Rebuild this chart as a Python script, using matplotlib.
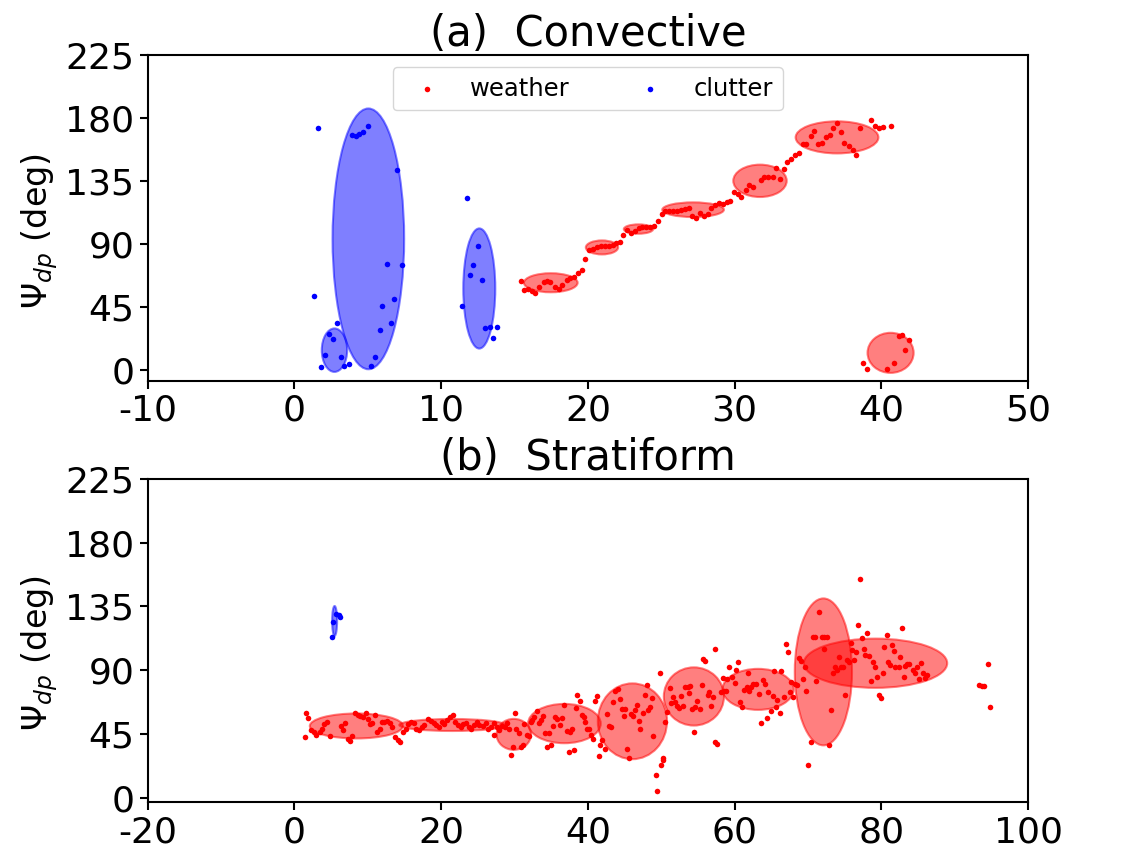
import matplotlib
matplotlib.use("Agg")
import matplotlib.pyplot as plt
from matplotlib.patches import Ellipse

plt.rcParams["axes.unicode_minus"] = False

# ---- (a) convective ----
a_clutter_x = [1.59, 1.34, 1.81, 2.1, 2.35, 2.6, 2.9, 3.15, 3.4, 3.7, 3.9, 4.2, 4.4, 4.7, 5.0,
               5.2, 5.5, 5.8, 6.0, 6.3, 6.55, 6.8, 7.0, 7.3, 11.43, 11.75, 12.0, 12.2, 12.5,
               12.76, 13.0, 13.3, 13.5, 13.8]
a_clutter_y = [173, 53, 2.4, 10.7, 25.5, 22, 34, 9.5, 3, 4.3, 168, 167, 168.5, 170, 174,
               3, 9.5, 29, 46, 76, 33.6, 50.5, 143, 75, 45.7, 123, 68, 75, 88.6,
               64.5, 30, 30.7, 23, 31]

a_weather_x = [15.41, 15.64, 15.93, 16.2, 16.43, 16.68, 16.98, 17.2, 17.45, 17.75, 18.02, 18.27,
               18.55, 18.8, 19.02, 19.3, 19.59, 19.82,
               20.09, 20.36, 20.64, 20.91, 21.18, 21.45, 21.68, 21.91, 22.18, 22.41,
               22.66, 22.95, 23.18, 23.45, 23.7, 23.95, 24.23, 24.48, 24.77,
               25.02, 25.27, 25.55, 25.82, 26.09, 26.36, 26.64, 26.86, 27.09, 27.39, 27.66,
               27.89, 28.18, 28.41, 28.66, 28.91, 29.23, 29.45, 29.68,
               29.95, 30.2, 30.45, 30.77, 31.0, 31.25, 31.8, 32.02, 32.3, 32.59, 32.82, 33.09,
               33.36, 33.59, 33.86, 34.14, 34.41,
               34.64, 34.89, 35.18, 35.43, 35.68, 35.95, 36.23, 36.48, 36.7, 37.0, 37.25,
               37.45, 37.77, 38.05, 38.27, 38.57, 39.3, 39.59, 39.86, 40.09, 40.64,
               38.76, 39.0, 40.37, 40.84, 41.17, 41.4, 41.87, 41.6]
a_weather_y = [63.7, 57.0, 58.0, 56.6, 55.1, 59.7, 62.8, 63.7, 63.0, 59.7, 58.2, 60.8,
               64.4, 65.6, 66.6, 69.7, 71.8, 79.5,
               85.9, 86.6, 87.6, 88.3, 88.8, 88.3, 89.2, 90.7, 91.6, 96.6,
               99.7, 97.8, 99.3, 101.2, 101.9, 101.9, 102.4, 103.1, 106.7,
               111.7, 113.8, 113.8, 113.6, 113.6, 114.5, 115.3, 115.7, 109.8, 108.6, 112.2,
               109.8, 111.7, 115.5, 118.1, 119.3, 118.6, 120.0, 121.0,
               127.0, 126.0, 123.6, 128.4, 132.2, 130.8, 135.5, 137.7, 137.9, 137.9, 144.1, 136.5,
               143.7, 148.4, 150.8, 153.4, 155.1,
               161.6, 161.6, 167.0, 170.4, 161.6, 162.0, 166.6, 167.5, 172.8, 176.1, 169.7,
               162.0, 159.9, 157.0, 153.7, 172.8, 178.5, 174.2, 173.0, 173.5, 174.2,
               5.5, 0.7, 0.7, 4.8, 24.3, 24.8, 21.4, 14.3]

# ellipses: centre x, centre y, width, height
a_clutter_ell_x = [5.04, 2.73, 12.6]
a_clutter_ell_y = [93.7, 14.3, 58.3]
a_clutter_ell_w = [4.88, 1.73, 2.18]
a_clutter_ell_h = [186, 31, 85.7]

a_weather_ell_x = [17.47, 20.96, 23.45, 27.17, 31.73, 36.98, 40.63]
a_weather_ell_y = [62.4, 87.6, 100.7, 114.5, 135.1, 166.1, 12.4]
a_weather_ell_w = [3.66, 2.2, 2.0, 4.2, 3.64, 5.64, 3.14]
a_weather_ell_h = [13.6, 10.0, 6.7, 10.5, 23.1, 22.9, 28.6]

# ---- (b) stratiform ----
b_clutter_x = [5.09, 5.32, 5.73, 6.09, 6.27]
b_clutter_y = [113.2, 124.2, 129.6, 128.7, 127.8]

b_weather_x = [1.64, 1.91, 1.45, 2.27, 2.64, 3.0, 3.45, 3.73, 4.09, 4.45, 4.82, 6.41, 6.64, 6.91,
               7.27, 7.55, 7.91, 8.27, 8.64, 9.0, 9.36, 9.73, 10.0, 10.27, 10.64, 11.0, 11.27,
               11.64, 11.91, 12.27, 12.64, 13.0, 13.36, 13.73, 14.09, 14.45, 14.82, 15.18,
               15.55, 15.91, 16.27, 16.64, 17.0, 17.36, 17.73, 18.27, 18.64, 19.0, 19.36,
               19.73, 20.09, 20.45, 20.82, 21.18, 21.55, 21.91, 22.27, 22.64, 23.0, 23.36,
               23.73, 24.09, 24.45, 24.82, 25.18,
               25.73, 26.09, 26.45, 26.82, 27.18, 27.18, 27.55, 27.91, 28.27, 28.64, 29.0,
               29.27, 29.55, 29.82, 30.09, 30.27, 30.55, 30.91, 31.18, 31.36, 31.73, 32.0,
               32.18, 32.45, 32.64, 33.0, 33.27, 33.55, 33.82, 34.09, 34.45, 34.64, 34.91,
               35.18, 35.55, 35.82, 36.18, 36.45, 36.73, 37.09, 37.36, 37.55, 37.82, 38.09,
               38.36, 38.55, 38.91, 39.18, 39.45, 39.64, 39.91, 40.18, 40.45, 40.73, 41.0,
               41.18, 41.45, 41.64, 41.91, 42.27, 42.55, 42.82, 43.18, 43.45, 43.73, 44.09,
               44.36, 44.64, 44.91, 45.09, 45.27, 45.55, 45.91, 46.18, 46.45, 46.64, 46.91,
               47.09, 47.45, 47.82, 48.0, 48.18,
               48.73, 48.45, 48.91, 49.82, 50.27, 50.55, 50.82, 54.5, 57.36, 57.64,
               49.23, 49.43, 49.93, 50.19,
               51.18, 51.64, 51.36, 51.82, 52.09, 52.36, 52.64, 52.91, 53.27, 53.64, 53.91,
               53.73, 54.18, 54.64, 54.91, 55.27, 55.55, 56.0, 55.73, 56.36, 56.55, 56.82,
               57.0, 57.27, 58.09, 58.36, 58.55, 58.82, 59.0, 59.27, 59.64, 60.0, 60.18,
               60.45, 60.73, 61.0, 61.27, 61.64, 61.82, 62.0, 62.27, 62.55, 62.91, 63.27,
               63.55, 63.82, 64.09, 64.36, 64.55, 64.91, 65.18, 65.36, 65.64, 65.82, 66.18,
               66.36, 66.73, 67.0, 67.27, 67.55, 67.73, 68.0, 68.27, 68.55, 68.82, 69.09,
               69.55, 69.27, 69.73, 70.36, 70.64, 70.91, 71.09, 71.55, 71.91, 72.18, 72.18,
               72.64, 72.91, 73.09, 73.45, 73.73, 74.0, 74.27, 70.05,
               77.09, 76.78, 78.1, 77.37, 80.73, 82.82, 75.82, 76.0, 76.55, 76.27, 77.64,
               77.82, 78.36, 80.36, 81.45, 81.73, 82.55, 78.91, 79.18, 79.45, 80.18, 78.55,
               80.91, 81.18, 81.91, 82.36, 83.09, 83.27, 83.55, 83.82, 84.27, 84.55, 84.82,
               85.09, 85.36, 85.64, 85.91, 86.18, 74.55, 74.73, 75.27, 75.55, 75.0, 79.64,
               79.91, 94.55, 93.37, 93.73, 94.0, 94.77]
b_weather_y = [59.8, 56.7, 42.9, 48.1, 46.9, 44.5, 46.4, 49.0, 52.3, 53.9, 43.4, 50.9, 48.1, 53.2,
               41.5, 39.9, 43.4, 60.2, 58.8, 58.1, 57.4, 59.8, 55.8, 52.3, 53.2, 58.4, 46.4,
               48.5, 53.7, 53.7, 54.6, 52.7, 49.9, 42.7, 41.0, 39.6, 46.9, 48.8,
               52.3, 53.7, 53.2, 48.8, 48.1, 49.9, 51.3, 55.8, 54.6, 52.7, 51.3,
               50.4, 53.7, 52.3, 55.1, 57.4, 58.4, 53.7, 51.3, 49.9, 52.3, 53.2,
               50.4, 49.0, 51.3, 53.7, 51.8,
               50.8, 53.2, 48.5, 49.9, 52.7, 44.7, 49.9, 48.0, 50.8, 49.9, 52.7,
               48.5, 30.4, 35.8, 59.7, 48.5, 46.2, 36.3, 37.2, 52.2, 44.7, 43.8,
               53.6, 55.1, 56.9, 61.6, 53.2, 55.1, 57.9, 45.7, 35.8, 45.7, 37.2,
               50.8, 57.4, 56.0, 51.3, 56.5, 65.4, 47.6, 32.6, 46.6, 48.5, 34.0,
               63.5, 72.9, 68.2, 58.3, 57.4, 53.6, 48.5, 49.0, 44.7, 41.5, 68.2,
               71.9, 29.7, 37.7, 41.0, 34.9, 59.3, 50.8, 49.9, 67.7, 75.7, 77.1,
               69.6, 63.0, 57.9, 63.0, 34.9, 27.9, 59.3, 57.9, 62.1, 65.4, 54.6,
               48.5, 60.2, 72.9, 79.4, 62.1,
               70.6, 64.5, 43.4, 88.4, 27.9, 53.9, 60.3, 46.9, 39.6, 38.2,
               16.4, 4.9, 23.2, 27.0,
               77.8, 71.5, 67.3, 67.8, 64.9, 63.5, 72.2, 65.2, 78.5, 78.5, 79.0,
               74.3, 63.1, 64.5, 68.2, 63.1, 79.5, 96.8, 97.8, 72.5, 74.8, 65.2,
               71.5, 104.8, 74.8, 84.6, 75.7, 75.7, 84.2, 92.6, 85.1, 80.9, 90.3,
               95.9, 67.8, 64.5, 76.2, 78.5, 88.4, 75.3, 78.5, 80.4, 80.4, 73.4,
               52.8, 83.2, 80.4, 56.5, 74.8, 61.2, 72.0, 89.3, 64.5, 69.2, 59.8,
               89.8, 71.5, 108.5, 102.9, 74.8, 81.8, 71.5, 80.4, 79.5, 98.7, 96.8,
               92.6, 83.7, 75.3, 39.6, 113.2, 113.2, 82.8, 130.8, 113.7, 113.2, 105.3,
               113.2, 37.3, 62.1, 87.9, 92.1, 90.3, 99.6, 23.4,
               154.0, 122.1, 116.0, 112.8, 114.6, 119.6, 109.5, 104.3, 102.9, 97.3, 105.3,
               100.8, 100.1, 106.7, 107.6, 103.9, 99.6, 95.9, 92.1, 85.6, 88.4, 82.3,
               96.1, 94.0, 92.1, 92.1, 85.1, 93.1, 94.5, 94.5, 90.3, 87.9, 92.1,
               84.2, 95.4, 88.4, 84.6, 86.5, 92.6, 92.1, 97.3, 95.9, 72.9, 72.5,
               70.6, 94.7, 79.7, 79.0, 79.0, 64.2]

b_clutter_ell_x = [5.48]
b_clutter_ell_y = [124.8]
b_clutter_ell_w = [0.68]
b_clutter_ell_h = [21]

b_weather_ell_x = [8.45, 21.5, 29.9, 36.8, 46.07, 54.45, 63.2, 72.1, 79.2]
b_weather_ell_y = [50.8, 51.5, 44.9, 52.5, 54.1, 71.6, 76.6, 88.9, 95.0]
b_weather_ell_w = [12.7, 14.4, 4.7, 9.9, 9.43, 8.2, 9.7, 7.8, 19.55]
b_weather_ell_h = [17.6, 8.5, 21.8, 27.7, 53.4, 41.0, 28.9, 103.5, 34.7]

yticks = [0, 45, 90, 135, 180, 225]


def add_ellipses(ax, xs, ys, ws, hs, color):
    for x, y, w, h in zip(xs, ys, ws, hs):
        ax.add_patch(Ellipse((x, y), w, h, color=color, alpha=0.5, lw=1.5))


fig = plt.figure(figsize=(11.36, 8.51), dpi=100)
ax1 = fig.add_axes([0.130, 0.5526, 0.775, 0.383])
ax2 = fig.add_axes([0.130, 0.0575, 0.775, 0.380])

# top panel
add_ellipses(ax1, a_clutter_ell_x, a_clutter_ell_y, a_clutter_ell_w, a_clutter_ell_h, "b")
add_ellipses(ax1, a_weather_ell_x, a_weather_ell_y, a_weather_ell_w, a_weather_ell_h, "r")
ax1.scatter(a_weather_x, a_weather_y, s=16, c="r", lw=0, label="weather")
ax1.scatter(a_clutter_x, a_clutter_y, s=16, c="b", lw=0, label="clutter")
ax1.set_xlim(-10, 50)
ax1.set_ylim(-7.5, 225)
ax1.set_xticks(range(-10, 51, 10))
ax1.set_yticks(yticks)
ax1.set_title("(a)  Convective", fontsize=30, pad=6)
ax1.legend(loc="upper center", ncol=2, fontsize=17.5, columnspacing=2.3)

# bottom panel
add_ellipses(ax2, b_clutter_ell_x, b_clutter_ell_y, b_clutter_ell_w, b_clutter_ell_h, "b")
add_ellipses(ax2, b_weather_ell_x, b_weather_ell_y, b_weather_ell_w, b_weather_ell_h, "r")
ax2.scatter(b_weather_x, b_weather_y, s=16, c="r", lw=0)
ax2.scatter(b_clutter_x, b_clutter_y, s=16, c="b", lw=0)
ax2.set_xlim(-20, 100)
ax2.set_ylim(-2.8, 225)
ax2.set_xticks(range(-20, 101, 20))
ax2.set_yticks(yticks)
ax2.set_title("(b)  Stratiform", fontsize=30, pad=6)

for ax in (ax1, ax2):
    ax.set_ylabel(r"$\Psi_{dp}$ (deg)", fontsize=24)
    ax.yaxis.set_label_coords(-0.1, 0.46)
    ax.tick_params(labelsize=26, width=1.5, length=6)
    for sp in ax.spines.values():
        sp.set_linewidth(1.5)

fig.savefig("out.png", dpi=100)
